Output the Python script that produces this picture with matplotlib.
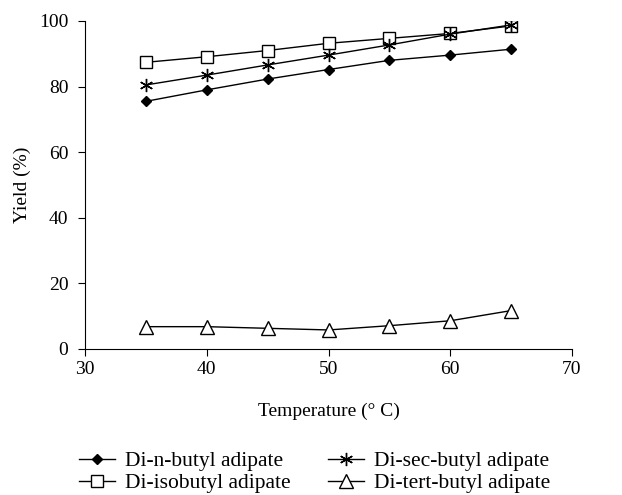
import matplotlib
matplotlib.use("Agg")
import matplotlib.pyplot as plt

plt.rcParams["font.family"] = ["Liberation Serif", "DejaVu Serif"]

temps = [35, 40, 45, 50, 55, 60, 65]
n_butyl = [75.5, 79.0, 82.3, 85.2, 88.0, 89.6, 91.4]
isobutyl = [87.4, 89.1, 91.0, 93.2, 94.7, 96.2, 98.5]
sec_butyl = [80.5, 83.5, 86.6, 89.6, 92.7, 96.0, 98.8]
tert_butyl = [6.8, 6.8, 6.3, 5.8, 7.1, 8.6, 11.7]

fig = plt.figure(figsize=(6.22, 4.95), dpi=100)
ax = fig.add_axes([0.1367, 0.295, 0.7829, 0.6626])

lw = 1.0
ax.plot(temps, n_butyl, color="black", lw=lw, marker="D", ms=5.5, mfc="black",
        label="Di-n-butyl adipate")
ax.plot(temps, isobutyl, color="black", lw=lw, marker="s", ms=8.5, mfc="white",
        mew=1.0, label="Di-isobutyl adipate")
ax.plot(temps, sec_butyl, color="black", lw=lw, marker=(6, 2, 0), ms=9.5,
        mew=1.0, label="Di-sec-butyl adipate")
ax.plot(temps, tert_butyl, color="black", lw=lw, marker="^", ms=9.5, mfc="white",
        mew=1.0, label="Di-tert-butyl adipate")

ax.set_xlim(30, 70)
ax.set_ylim(0, 100)
ax.set_xticks([30, 40, 50, 60, 70])
ax.set_yticks([0, 20, 40, 60, 80, 100])
ax.spines["top"].set_visible(False)
ax.spines["right"].set_visible(False)
ax.tick_params(direction="out", length=5, labelsize=14)
ax.tick_params(axis="y", pad=7)
ax.set_xlabel("Temperature (° C)", fontsize=14, labelpad=18)
ax.set_ylabel("Yield (%)", fontsize=14, labelpad=6)

fig.legend(loc="upper left", bbox_to_anchor=(79 / 622, 1 - 451 / 495), ncol=2,
           frameon=False, fontsize=15.5, handlelength=1.67, handletextpad=0.46,
           columnspacing=1.75, labelspacing=0.1, borderpad=0, borderaxespad=0)

fig.savefig("out.png", dpi=100)
